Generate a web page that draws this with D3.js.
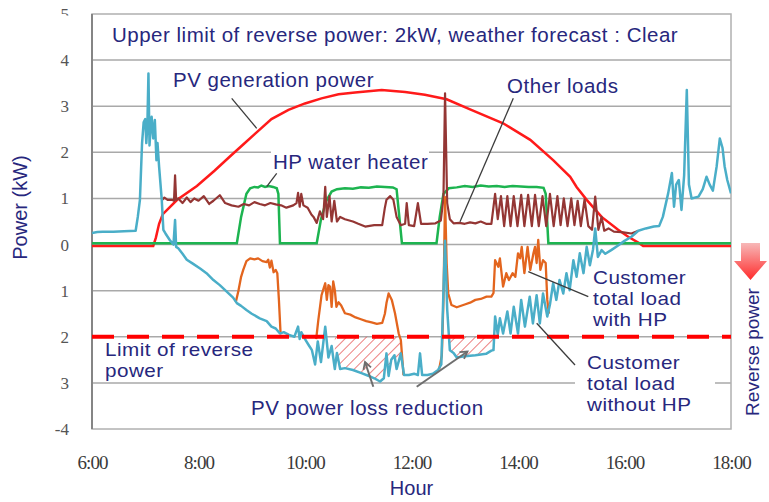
<!DOCTYPE html>
<html>
<head>
<meta charset="utf-8">
<script src="https://cdn.jsdelivr.net/npm/d3@7"></script>
<style>
  body { margin: 0; background: #fff; }
  svg { display: block; }
</style>
</head>
<body>
<svg id="chart" width="769" height="502"></svg>
<script>
// ---- data -------------------------------------------------------------
const hourTicks = [6, 8, 10, 12, 14, 16, 18];
const hourLabels = ["6:00", "8:00", "10:00", "12:00", "14:00", "16:00", "18:00"];
const powerTicks = [-4, -3, -2, -1, 0, 1, 2, 3, 4, 5];
const powerLabels = ["-4", "3", "2", "1", "0", "1", "2", "3", "4", "5"];
const gridValues = [-3, -2, -1, 0, 1, 2, 3, 4];
const reverseLimit = -2;

// [hour, kW]
const pvGeneration = [[6.00,-0.03],[7.15,-0.03],[7.20,0.15],[7.26,0.45],[7.33,0.66],[7.60,0.97],[7.97,1.27],[8.30,1.60],[8.60,1.92],[8.85,2.18],[9.06,2.40],[9.37,2.72],[9.69,2.92],[10.00,3.06],[10.31,3.17],[10.63,3.26],[10.94,3.30],[11.44,3.35],[11.88,3.31],[12.25,3.25],[12.66,3.15],[13.10,2.93],[13.72,2.63],[14.23,2.27],[14.66,1.83],[14.98,1.47],[15.10,1.25],[15.29,0.97],[15.57,0.60],[15.88,0.32],[16.07,0.17],[16.29,0.02],[16.35,-0.03],[18.00,-0.03]];

const hpWaterHeater = [[6.00,0.03],[8.72,0.03],[8.80,0.6],[8.90,1.1],[8.97,1.22],[9.05,1.25],[9.12,1.24],[9.18,1.28],[9.25,1.25],[9.32,1.27],[9.40,1.25],[9.47,1.22],[9.50,1.1],[9.53,0.03],[10.22,0.03],[10.30,0.55],[10.40,0.95],[10.50,1.15],[10.60,1.2],[10.75,1.22],[10.90,1.21],[11.05,1.24],[11.20,1.23],[11.35,1.26],[11.50,1.25],[11.65,1.24],[11.72,1.2],[11.82,0.03],[12.47,0.03],[12.53,0.6],[12.60,1.1],[12.70,1.22],[12.85,1.24],[13.00,1.27],[13.15,1.25],[13.30,1.28],[13.45,1.26],[13.60,1.27],[13.75,1.25],[13.90,1.27],[14.05,1.26],[14.20,1.25],[14.35,1.25],[14.48,1.23],[14.52,1.1],[14.57,0.03],[18.00,0.03]];

const otherLoads = [[7.32,0.97],[7.36,1.02],[7.42,0.97],[7.50,0.97],[7.54,0.95],[7.56,1.50],[7.58,0.97],[7.62,1.00],[7.70,0.90],[7.78,1.02],[7.85,0.92],[7.92,1.00],[8.00,0.95],[8.10,1.05],[8.20,0.88],[8.28,0.95],[8.40,1.07],[8.50,0.90],[8.62,0.85],[8.75,0.82],[8.85,0.88],[8.95,0.85],[9.05,0.92],[9.15,0.88],[9.25,0.85],[9.35,0.90],[9.45,0.87],[9.55,0.85],[9.65,0.80],[9.78,0.85],[9.84,0.90],[9.87,1.12],[9.90,0.82],[9.93,1.10],[9.97,0.85],[10.05,0.80],[10.12,0.65],[10.16,0.60],[10.22,0.47],[10.28,0.72],[10.34,0.55],[10.38,1.25],[10.41,0.60],[10.46,1.05],[10.50,0.50],[10.55,0.95],[10.60,0.50],[10.66,0.60],[10.75,0.55],[10.90,0.50],[11.00,0.45],[11.13,0.39],[11.30,0.42],[11.45,0.42],[11.50,0.80],[11.53,0.97],[11.60,1.05],[11.66,0.97],[11.72,0.60],[11.80,0.42],[11.88,0.45],[11.91,0.90],[11.95,0.42],[12.05,0.40],[12.12,0.90],[12.18,0.45],[12.30,0.45],[12.45,0.46],[12.55,0.52],[12.60,1.00],[12.63,3.28],[12.67,0.90],[12.72,0.55],[12.79,0.46],[12.90,0.47],[13.00,0.45],[13.10,0.48],[13.20,0.46],[13.30,0.50],[13.40,0.45],[13.50,0.45],[13.57,1.10],[13.62,0.55],[13.68,1.05],[13.74,0.40],[13.80,1.05],[13.86,0.40],[13.92,1.05],[13.99,0.40],[14.06,1.08],[14.12,0.40],[14.19,1.08],[14.26,0.40],[14.32,1.08],[14.39,0.40],[14.46,1.05],[14.53,0.40],[14.60,1.10],[14.67,0.40],[14.74,1.05],[14.80,0.42],[14.86,1.00],[14.93,0.40],[15.00,1.00],[15.06,0.42],[15.12,0.95],[15.18,0.40],[15.25,0.98],[15.32,0.40],[15.39,0.32],[15.45,1.04],[15.51,0.32],[15.57,0.60],[15.62,0.30],[15.70,0.35],[15.80,0.28],[15.95,0.27],[16.13,0.24],[16.26,0.30]];

const loadWithoutHP = [[6.00,0.25],[6.10,0.27],[6.20,0.28],[6.40,0.28],[6.60,0.29],[6.82,0.30],[6.86,0.60],[6.90,0.97],[6.94,2.20],[6.97,2.65],[7.00,2.72],[7.02,2.20],[7.04,2.60],[7.06,3.71],[7.08,2.15],[7.10,2.50],[7.12,2.77],[7.15,2.30],[7.18,2.70],[7.21,1.83],[7.23,2.20],[7.26,1.69],[7.31,0.97],[7.34,0.32],[7.38,0.24],[7.46,0.10],[7.53,0.00],[7.56,0.53],[7.58,-0.05],[7.62,-0.08],[7.70,-0.20],[7.78,-0.33],[7.90,-0.42],[8.03,-0.52],[8.15,-0.62],[8.28,-0.77],[8.40,-0.88],[8.53,-1.02],[8.65,-1.15],[8.72,-1.27],[8.80,-1.33],[8.90,-1.42],[9.00,-1.50],[9.15,-1.60],[9.28,-1.66],[9.37,-1.78],[9.45,-1.82],[9.53,-1.93],[9.60,-1.90],[9.70,-1.96],[9.80,-2.00],[9.87,-1.78],[9.90,-2.05],[9.93,-1.90],[10.00,-2.05],[10.08,-2.20],[10.13,-2.29],[10.19,-2.60],[10.24,-2.10],[10.30,-2.55],[10.38,-1.78],[10.44,-2.45],[10.50,-2.20],[10.56,-2.70],[10.60,-2.35],[10.66,-2.70],[10.75,-2.68],[10.90,-2.72],[11.06,-2.79],[11.20,-2.85],[11.30,-2.90],[11.41,-2.97],[11.48,-2.90],[11.53,-2.36],[11.57,-2.85],[11.62,-2.50],[11.68,-2.40],[11.72,-2.70],[11.80,-2.36],[11.86,-2.83],[11.95,-2.83],[12.05,-2.80],[12.12,-2.83],[12.16,-2.36],[12.20,-2.83],[12.30,-2.83],[12.40,-2.80],[12.50,-2.72],[12.56,-2.60],[12.60,-1.00],[12.63,0.08],[12.67,-1.40],[12.72,-2.29],[12.79,-2.35],[12.85,-2.45],[13.00,-2.42],[13.20,-2.40],[13.40,-2.37],[13.50,-2.30],[13.54,-2.29],[13.57,-1.56],[13.62,-1.95],[13.66,-1.60],[13.72,-1.93],[13.80,-1.45],[13.86,-1.93],[13.92,-1.35],[14.00,-1.93],[14.06,-1.20],[14.13,-1.78],[14.22,-1.13],[14.28,-1.71],[14.35,-1.10],[14.41,-1.71],[14.47,-1.06],[14.55,-1.56],[14.60,-1.30],[14.66,-0.84],[14.72,-1.20],[14.78,-0.77],[14.85,-1.06],[14.91,-0.62],[14.97,-0.99],[15.04,-0.34],[15.10,-0.70],[15.16,-0.19],[15.23,-0.62],[15.29,-0.05],[15.35,-0.45],[15.41,-0.10],[15.45,0.35],[15.50,-0.27],[15.57,-0.12],[15.64,-0.20],[15.75,-0.12],[15.88,-0.02],[16.00,0.08],[16.13,0.17],[16.26,0.30],[16.40,0.35],[16.55,0.39],[16.65,0.40],[16.72,0.60],[16.82,1.11],[16.89,1.55],[16.93,0.82],[16.97,1.30],[17.02,1.40],[17.07,0.75],[17.12,1.50],[17.17,3.35],[17.21,1.30],[17.26,1.00],[17.39,1.04],[17.47,1.20],[17.54,1.47],[17.60,1.30],[17.66,1.17],[17.73,1.69],[17.79,2.30],[17.84,2.10],[17.88,1.70],[17.93,1.40],[18.00,1.11]];

// total load with HP, where it departs from the load without HP
const loadWithHP = [
  [[8.70,-1.25],[8.75,-1.0],[8.80,-0.7],[8.84,-0.55],[8.90,-0.36],[8.97,-0.30],[9.05,-0.32],[9.12,-0.30],[9.20,-0.36],[9.28,-0.38],[9.31,-0.33],[9.34,-0.50],[9.37,-0.35],[9.41,-0.60],[9.45,-0.55],[9.48,-0.62],[9.51,-1.20],[9.54,-1.90]],
  [[10.21,-2.05],[10.25,-1.64],[10.31,-1.10],[10.35,-0.95],[10.38,-0.84],[10.41,-1.20],[10.44,-0.88],[10.47,-0.91],[10.50,-1.35],[10.53,-0.80],[10.56,-0.99],[10.59,-1.35],[10.63,-1.25],[10.68,-1.32],[10.75,-1.49],[10.85,-1.52],[10.95,-1.58],[11.05,-1.62],[11.15,-1.66],[11.25,-1.69],[11.35,-1.72],[11.45,-1.70],[11.50,-1.50],[11.53,-1.27],[11.57,-1.06],[11.63,-1.20],[11.69,-1.49],[11.76,-1.93],[11.80,-2.07],[11.85,-2.83]],
  [[12.52,-2.70],[12.57,-2.40],[12.60,-1.20],[12.63,1.03],[12.66,-0.40],[12.69,-1.06],[12.75,-1.31],[12.85,-1.36],[13.00,-1.30],[13.10,-1.26],[13.20,-1.20],[13.30,-1.18],[13.41,-1.13],[13.50,-1.13],[13.54,-1.05],[13.57,-0.34],[13.63,-0.48],[13.66,-0.30],[13.72,-0.91],[13.78,-0.62],[13.83,-0.77],[13.90,-0.62],[13.95,-0.70],[14.00,-0.19],[14.04,-0.30],[14.07,-0.05],[14.12,-0.62],[14.18,-0.05],[14.23,-0.55],[14.29,-0.19],[14.32,-0.05],[14.35,-0.40],[14.38,0.10],[14.42,-0.55],[14.47,-0.34],[14.52,-0.40],[14.55,-1.20],[14.58,-1.50]]
];

// periods where the HP avoids PV curtailment [start hour, end hour]
const lossReductionPeriods = [[10.56, 11.82], [12.69, 13.54]];

// ---- layout ------------------------------------------------------------
const svg = d3.select("#chart");
const plot = { left: 92, right: 731, top: 14, bottom: 429 };
const x = d3.scaleLinear().domain([6, 18]).range([plot.left, plot.right]);
const y = d3.scaleLinear().domain([-4, 5]).range([plot.bottom, plot.top]);

const navy = "#27277d";
const sans = "'Liberation Sans', Arial, sans-serif";
const serif = "'Liberation Serif', 'Times New Roman', serif";

const defs = svg.append("defs");
defs.append("clipPath").attr("id", "plotClip")
  .append("rect").attr("x", plot.left).attr("y", plot.top)
  .attr("width", plot.right - plot.left).attr("height", plot.bottom - plot.top);
// the top tick label is only partly shown (local coordinates of the tick)
defs.append("clipPath").attr("id", "topLabelClip")
  .append("rect").attr("x", -60).attr("y", -20).attr("width", 60).attr("height", 21);

const hatch = defs.append("pattern").attr("id", "hatch")
  .attr("patternUnits", "userSpaceOnUse").attr("width", 7).attr("height", 7)
  .attr("patternTransform", "rotate(45)");
hatch.append("line").attr("x1", 0).attr("y1", 0).attr("x2", 0).attr("y2", 7)
  .attr("stroke", "#e23a3a").attr("stroke-width", 1.3);

const arrowGrad = defs.append("linearGradient").attr("id", "arrowGrad")
  .attr("x1", 0).attr("y1", 0).attr("x2", 0).attr("y2", 1);
arrowGrad.append("stop").attr("offset", "0%").attr("stop-color", "#f7b8b8");
arrowGrad.append("stop").attr("offset", "100%").attr("stop-color", "#ff2b2b");

defs.append("marker").attr("id", "openArrow")
  .attr("viewBox", "0 0 10 10").attr("refX", 8).attr("refY", 5)
  .attr("markerWidth", 5).attr("markerHeight", 5).attr("orient", "auto")
  .append("path").attr("d", "M1,1 L8,5 L1,9")
  .attr("fill", "none").attr("stroke", "#6e6e6e").attr("stroke-width", 1.8);

// ---- gridlines and frame ----------------------------------------------
svg.append("g").selectAll("line").data(gridValues).join("line")
  .attr("x1", plot.left).attr("x2", plot.right)
  .attr("y1", d => y(d)).attr("y2", d => y(d))
  .attr("stroke", "#a9a9a9").attr("stroke-width", 1.5);

// white backing of the text boxes that sit inside the plot
const boxes = [
  { x: 271, y: 150, w: 158, h: 26 },
  { x: 548, y: 281, w: 183, h: 18 },
  { x: 575, y: 376, w: 140, h: 16 }
];
svg.append("g").selectAll("rect").data(boxes).join("rect")
  .attr("x", d => d.x).attr("y", d => d.y).attr("width", d => d.w).attr("height", d => d.h)
  .attr("fill", "#fff");

svg.append("rect")
  .attr("x", plot.left).attr("y", plot.top)
  .attr("width", plot.right - plot.left).attr("height", plot.bottom - plot.top)
  .attr("fill", "none").attr("stroke", "#b0b0b0").attr("stroke-width", 1.5);
svg.append("line")
  .attr("x1", plot.left).attr("x2", plot.left).attr("y1", plot.top).attr("y2", plot.bottom)
  .attr("stroke", "#858585").attr("stroke-width", 2);

// ---- axes ---------------------------------------------------------------
const xAxis = d3.axisBottom(x).tickValues(hourTicks)
  .tickFormat((d, i) => hourLabels[i]).tickSize(0).tickPadding(27);
const gx = svg.append("g").attr("transform", `translate(0,${plot.bottom})`).call(xAxis);
gx.select(".domain").remove();
gx.selectAll("text").attr("font-family", serif).attr("font-size", 19)
  .attr("fill", "#3a3a3a").attr("letter-spacing", "-1px");

const yAxis = d3.axisLeft(y).tickValues(powerTicks)
  .tickFormat((d, i) => powerLabels[i]).tickSize(0).tickPadding(23);
const gy = svg.append("g").attr("transform", `translate(${plot.left},0)`).call(yAxis);
gy.select(".domain").remove();
gy.selectAll("text").attr("font-family", serif).attr("font-size", 17).attr("fill", "#555");
gy.selectAll(".tick").filter(d => d === 5).select("text").attr("clip-path", "url(#topLabelClip)");

svg.append("text")
  .attr("transform", `translate(27,${(y(5) + y(-4)) / 2 - 14}) rotate(-90)`)
  .attr("text-anchor", "middle").attr("font-family", sans).attr("font-size", 20)
  .attr("fill", navy).text("Power (kW)");
svg.append("text").attr("x", (plot.left + plot.right) / 2).attr("y", 495)
  .attr("text-anchor", "middle").attr("font-family", sans).attr("font-size", 20)
  .attr("fill", navy).text("Hour");

// ---- series ------------------------------------------------------------
const line = d3.line().x(d => x(d[0])).y(d => y(d[1]));
const series = svg.append("g").attr("clip-path", "url(#plotClip)");

// hatched area between the limit and the load without HP
lossReductionPeriods.forEach(([a, b]) => {
  const pts = loadWithoutHP.filter(d => d[0] >= a && d[0] <= b);
  const poly = [[a, reverseLimit], ...pts, [b, reverseLimit]];
  series.append("path")
    .datum(poly)
    .attr("d", d3.area().x(d => x(d[0])).y0(y(reverseLimit))
      .y1(d => y(Math.min(d[1], reverseLimit))))
    .attr("fill", "url(#hatch)");
});

series.append("path").datum(pvGeneration).attr("d", line)
  .attr("fill", "none").attr("stroke", "#ff1a1a").attr("stroke-width", 2.5);
series.append("path").datum(hpWaterHeater).attr("d", line)
  .attr("fill", "none").attr("stroke", "#1db450").attr("stroke-width", 2.5);
series.append("path").datum(otherLoads).attr("d", line)
  .attr("fill", "none").attr("stroke", "#943634").attr("stroke-width", 2.2)
  .attr("stroke-linejoin", "round");
series.selectAll(".withHP").data(loadWithHP).join("path").attr("class", "withHP")
  .attr("d", line).attr("fill", "none").attr("stroke", "#e3651e")
  .attr("stroke-width", 2.3).attr("stroke-linejoin", "round");
series.append("path").datum(loadWithoutHP).attr("d", line)
  .attr("fill", "none").attr("stroke", "#4aaec8").attr("stroke-width", 2.5)
  .attr("stroke-linejoin", "round");

// reverse power limit
series.append("line")
  .attr("x1", plot.left).attr("x2", plot.right)
  .attr("y1", y(reverseLimit)).attr("y2", y(reverseLimit))
  .attr("stroke", "#ff0000").attr("stroke-width", 4)
  .attr("stroke-dasharray", "22,13");

// ---- annotations -------------------------------------------------------
const leaders = [
  [231.7, 98.3, 256.7, 128.3],
  [276.7, 173.3, 266.7, 186.7],
  [513.3, 98.3, 460, 221.7],
  [528.3, 271.7, 588.3, 296.7],
  [536.7, 323.3, 575, 365]
];
svg.append("g").selectAll("line").data(leaders).join("line")
  .attr("x1", d => d[0]).attr("y1", d => d[1]).attr("x2", d => d[2]).attr("y2", d => d[3])
  .attr("stroke", "#3c3c3c").attr("stroke-width", 1.3);

const pointers = [
  [373.3, 386.7, 365, 362],
  [416.7, 386.7, 467.5, 351.5]
];
svg.append("g").selectAll("line").data(pointers).join("line")
  .attr("x1", d => d[0]).attr("y1", d => d[1]).attr("x2", d => d[2]).attr("y2", d => d[3])
  .attr("stroke", "#6e6e6e").attr("stroke-width", 2)
  .attr("marker-end", "url(#openArrow)");

// single-line text boxes
const labels = [
  { x: 112, y: 41.5, t: "Upper limit of reverse power: 2kW, weather forecast : Clear" },
  { x: 173, y: 86.5, t: "PV generation power" },
  { x: 273, y: 168.5, t: "HP water heater" },
  { x: 507, y: 92.5, t: "Other loads" },
  { x: 251, y: 415, t: "PV power loss reduction" }
];
svg.append("g").selectAll("text").data(labels).join("text")
  .attr("x", d => d.x).attr("y", d => d.y)
  .attr("font-family", sans).attr("font-size", 20.5).attr("letter-spacing", "0.5px")
  .attr("fill", navy).text(d => d.t);

// stacked text boxes: narrow-set type, slightly widened
const stacked = [
  { x: 593, y: 284, lines: ["Customer", "total load", "with HP"] },
  { x: 587, y: 369, lines: ["Customer", "total load", "without HP"] },
  { x: 105, y: 356, lines: ["Limit of reverse", "power"] }
];
const lineGap = 21;
const stackG = svg.append("g").selectAll("g").data(stacked).join("g")
  .attr("transform", d => `translate(${d.x},${d.y}) scale(1.13,1)`);
stackG.selectAll("text").data(d => d.lines).join("text")
  .attr("x", 0).attr("y", (d, i) => i * lineGap)
  .attr("font-family", sans).attr("font-size", 18.3).attr("letter-spacing", "0.4px")
  .attr("fill", navy).text(d => d);

// reverse power direction marker
svg.append("path")
  .attr("d", "M741,243 L760,243 L760,261 L767,261 L750.5,280 L734,261 L741,261 Z")
  .attr("fill", "url(#arrowGrad)");
svg.append("text")
  .attr("transform", "translate(759,352) rotate(-90)")
  .attr("text-anchor", "middle").attr("font-family", sans).attr("font-size", 19)
  .attr("fill", navy).text("Reverse power");
</script>
</body>
</html>
